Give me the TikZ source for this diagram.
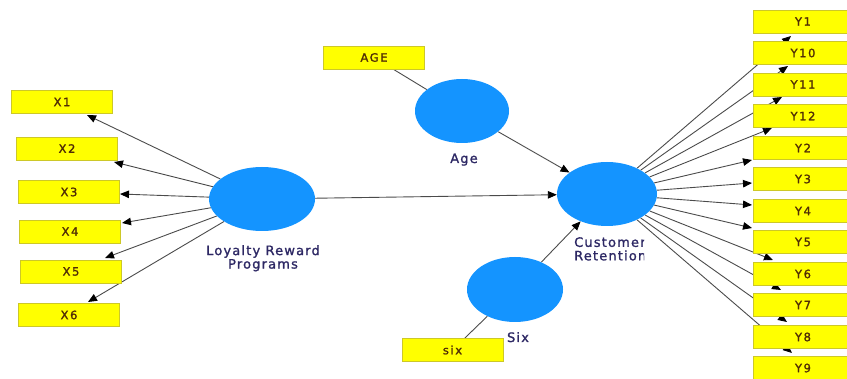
\documentclass[tikz,border=0pt]{standalone}
\usepackage{fontspec}
\setmainfont{DejaVu Sans}
\newfontfamily\boxfont[LetterSpace=14,FakeBold=1.5]{DejaVu Sans}
\newfontfamily\labfont[LetterSpace=9,FakeBold=1.3]{DejaVu Sans}
\usetikzlibrary{shapes.geometric,arrows.meta,calc}
\pgfdeclarelayer{bg}
\pgfsetlayers{bg,main}
\definecolor{boxfill}{RGB}{255,255,0}
\definecolor{boxline}{RGB}{205,200,40}
\definecolor{latent}{RGB}{20,148,255}
\definecolor{boxtext}{RGB}{80,45,5}
\definecolor{labtext}{RGB}{45,40,100}
\definecolor{edge}{RGB}{75,75,75}
\tikzset{
 ind/.style={draw=boxline, fill=boxfill, line width=0.8pt, minimum width=101pt, minimum height=23pt, inner sep=0pt, font=\boxfont\fontsize{11.5}{12}\selectfont, text=boxtext},
 lat/.style={ellipse, fill=latent, inner sep=0pt},
 lab/.style={font=\labfont\fontsize{13}{13.5}\selectfont, text=labtext, inner sep=0pt},
 arr/.style={draw=edge, line width=0.9pt, -{Triangle[length=9pt,width=7.5pt,color=black]}},
 ln/.style={draw=edge, line width=0.9pt},
}
\begin{document}
\begin{tikzpicture}[x=1pt,y=-1pt]
\useasboundingbox (0,0) rectangle (847,379);
% latent variables
\node[lat, minimum width=106pt, minimum height=64pt] (LRP) at (262,199) {};
\node[lat, minimum width=94pt, minimum height=64pt] (Age) at (462,111) {};
\node[lat, minimum width=100pt, minimum height=64pt] (CR) at (607,194) {};
\node[lat, minimum width=96pt, minimum height=65pt] (Six) at (515,289.5) {};
% labels
\node[lab, align=center, anchor=north] (LRPl) at (263,245) {Loyalty Reward\\Programs};
\node[lab, anchor=base] (Agel) at (464,163) {Age};
\node[lab, anchor=base] (Sixl) at (518,342) {Six};
\begin{scope}
\clip (560,230) rectangle (644,270);
\node[lab, align=left, anchor=north west] (CRl) at (574,237) {Customer\\Retention};
\end{scope}
% indicators left
\node[ind] (X1) at (62,102) {X1};
\node[ind] (X2) at (67,148.5) {X2};
\node[ind] (X3) at (69,192) {X3};
\node[ind] (X4) at (70,231.5) {X4};
\node[ind] (X5) at (71,271.5) {X5};
\node[ind] (X6) at (69,315) {X6};
% other indicators
\node[ind] (AGE) at (374,57.5) {AGE};
\node[ind] (six) at (452.5,350) {six};
% indicators right
\node[ind, minimum width=100pt] (Y1) at (803,21.5) {Y1};
\node[ind, minimum width=100pt] (Y10) at (803,53) {Y10};
\node[ind, minimum width=100pt] (Y11) at (803,84.5) {Y11};
\node[ind, minimum width=100pt] (Y12) at (803,116) {Y12};
\node[ind, minimum width=100pt] (Y2) at (803,148) {Y2};
\node[ind, minimum width=100pt] (Y3) at (803,179) {Y3};
\node[ind, minimum width=100pt] (Y4) at (803,211) {Y4};
\node[ind, minimum width=100pt] (Y5) at (803,242) {Y5};
\node[ind, minimum width=100pt] (Y6) at (803,274) {Y6};
\node[ind, minimum width=100pt] (Y7) at (803,305) {Y7};
\node[ind, minimum width=100pt] (Y8) at (803,337) {Y8};
\node[ind, minimum width=100pt] (Y9) at (803,368) {Y9};
% connectors
\begin{pgfonlayer}{bg}
\foreach \n/\dx/\dy in {X1/25/13, X2/47/13.5, X3/51/2, X4/52/-8.5, X5/34/-13.5, X6/19/-13}
  \draw[arr] (LRP) -- ($(\n)+(\dx,\dy)$);
\foreach \n/\dx/\dy in {Y1/-12/14.5, Y10/-15/13, Y11/-21/12.5, Y12/-31/12, Y2/-51/12, Y3/-51/4, Y4/-51/-6, Y5/-51/-14, Y6/-30/-14, Y7/-22/-15, Y8/-16/-15, Y9/-11/-15}
  \draw[arr] (CR) -- ($(\n)+(\dx,\dy)$);
\draw[arr] (LRP) -- (CR);
\draw[arr] (Age) -- (CR);
\draw[arr] (Six) -- (CR);
\draw[ln] (AGE) -- (Age);
\draw[ln] (six) -- (Six);
\end{pgfonlayer}
\end{tikzpicture}
\end{document}
